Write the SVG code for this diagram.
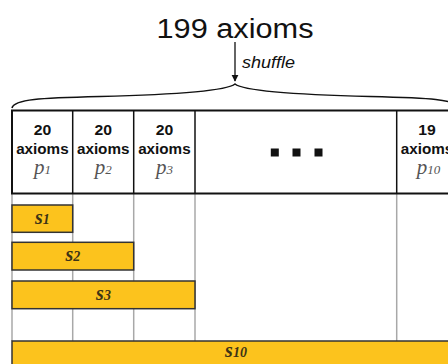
<svg xmlns="http://www.w3.org/2000/svg" width="448" height="364" viewBox="0 0 448 364">
  <defs>
    <marker id="arrowhead" viewBox="0 0 10 10" refX="9" refY="5" markerWidth="7" markerHeight="8" markerUnits="userSpaceOnUse" orient="auto">
      <path d="M0,0 L10,5 L0,10 z" fill="#111"/>
    </marker>
    <style>
      .title { font-family: "Liberation Sans", Arial, sans-serif; font-size: 27px; fill: #111; }
      .shuffle { font-family: "Liberation Sans", Arial, sans-serif; font-size: 16px; font-style: italic; fill: #111; }
      .hdr { font-family: "Liberation Sans", Arial, sans-serif; font-size: 15px; font-weight: bold; fill: #111; text-anchor: middle; }
      .pvar { font-family: "Liberation Serif", "Times New Roman", serif; font-size: 21px; font-style: italic; fill: #555; text-anchor: middle; }
      .sub { font-size: 13px; }
      .svar { font-family: "Liberation Serif", "Times New Roman", serif; font-size: 20px; font-style: italic; font-weight: bold; fill: #3d3416; text-anchor: middle; }
      .ssub { font-size: 14px; }
      .frame { fill: none; stroke: #111; stroke-width: 2; }
      .div { stroke: #111; stroke-width: 1.5; }
      .guide { stroke: #a8a8a8; stroke-width: 1.5; }
      .bar { fill: #fcc31d; stroke: #333; stroke-width: 1.5; }
      .dot { fill: #111; }
    </style>
  </defs>
  <rect width="448" height="364" fill="#fff"/>

  <!-- total set of axioms -->
  <g id="total">
    <text class="title" x="235" y="37.5" text-anchor="middle" textLength="157" lengthAdjust="spacingAndGlyphs">199 axioms</text>
  </g>

  <!-- shuffle arrow and the brace spanning all partitions -->
  <g id="connectors">
    <line x1="235" y1="42" x2="235" y2="81" stroke="#111" stroke-width="1.3" marker-end="url(#arrowhead)"/>
    <text class="shuffle" x="242" y="68" textLength="53" lengthAdjust="spacingAndGlyphs">shuffle</text>
    <path d="M12,108 C14,99 40,98 100,96.5 C160,95 225,92 235,84 C245,92 310,95 370,96.5 C430,98 456,99 458,108" fill="none" stroke="#111" stroke-width="1.6"/>
  </g>

  <!-- light guides under the partition columns -->
  <g id="guides">
    <line class="guide" x1="12" y1="193" x2="12" y2="341"/>
    <line class="guide" x1="72.7" y1="193" x2="72.7" y2="341"/>
    <line class="guide" x1="133.7" y1="193" x2="133.7" y2="341"/>
    <line class="guide" x1="195" y1="193" x2="195" y2="341"/>
    <line class="guide" x1="396.7" y1="193" x2="396.7" y2="341"/>
  </g>

  <!-- partition table -->
  <g id="partitions">
    <rect class="frame" x="12" y="110.5" width="446" height="83"/>
    <line class="div" x1="72.7" y1="110.5" x2="72.7" y2="193.5"/>
    <line class="div" x1="133.7" y1="110.5" x2="133.7" y2="193.5"/>
    <line class="div" x1="195" y1="110.5" x2="195" y2="193.5"/>
    <line class="div" x1="396.7" y1="110.5" x2="396.7" y2="193.5"/>
  </g>

  <g id="p1">
    <text class="hdr" x="42.4" y="135" textLength="17.5" lengthAdjust="spacingAndGlyphs">20</text>
    <text class="hdr" x="42.4" y="153.5" textLength="52.5" lengthAdjust="spacingAndGlyphs">axioms</text>
    <text class="pvar" x="42.4" y="174">p<tspan class="sub">1</tspan></text>
  </g>
  <g id="p2">
    <text class="hdr" x="103.2" y="135" textLength="17.5" lengthAdjust="spacingAndGlyphs">20</text>
    <text class="hdr" x="103.2" y="153.5" textLength="52.5" lengthAdjust="spacingAndGlyphs">axioms</text>
    <text class="pvar" x="103.2" y="174">p<tspan class="sub">2</tspan></text>
  </g>
  <g id="p3">
    <text class="hdr" x="164.4" y="135" textLength="17.5" lengthAdjust="spacingAndGlyphs">20</text>
    <text class="hdr" x="164.4" y="153.5" textLength="52.5" lengthAdjust="spacingAndGlyphs">axioms</text>
    <text class="pvar" x="164.4" y="174">p<tspan class="sub">3</tspan></text>
  </g>
  <g id="ellipsis">
    <rect class="dot" x="270.8" y="148.5" width="8" height="8"/>
    <rect class="dot" x="292.5" y="148.5" width="8" height="8"/>
    <rect class="dot" x="314.5" y="148.5" width="8" height="8"/>
  </g>
  <g id="p10">
    <text class="hdr" x="427" y="135" textLength="17.5" lengthAdjust="spacingAndGlyphs">19</text>
    <text class="hdr" x="427" y="153.5" textLength="52.5" lengthAdjust="spacingAndGlyphs">axioms</text>
    <text class="pvar" x="428.5" y="174">p<tspan class="sub">10</tspan></text>
  </g>

  <!-- cumulative subsets -->
  <g id="s1">
    <rect class="bar" x="12" y="205" width="60.7" height="27.3"/>
    <text class="svar" x="42.4" y="223.5">s<tspan class="ssub">1</tspan></text>
  </g>
  <g id="s2">
    <rect class="bar" x="12" y="242.3" width="121.7" height="27.7"/>
    <text class="svar" x="72.8" y="261">s<tspan class="ssub">2</tspan></text>
  </g>
  <g id="s3">
    <rect class="bar" x="12" y="281" width="183" height="27.7"/>
    <text class="svar" x="103.5" y="299.5">s<tspan class="ssub">3</tspan></text>
  </g>
  <g id="s10">
    <rect class="bar" x="12" y="341" width="446" height="30"/>
    <text class="svar" x="236" y="357">s<tspan class="ssub">10</tspan></text>
  </g>
</svg>
